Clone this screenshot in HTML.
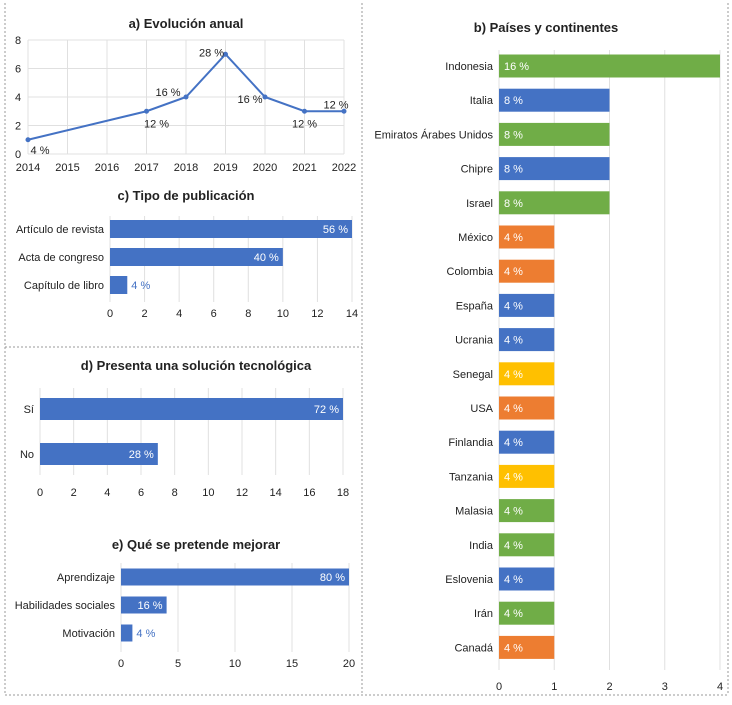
<!DOCTYPE html>
<html><head><meta charset="utf-8"><style>
body{margin:0;background:#fff;}
svg text{font-family:"Liberation Sans",sans-serif;}
</style></head><body>
<svg id="s" width="732" height="700" xmlns="http://www.w3.org/2000/svg">
<g stroke="#999" stroke-dasharray="2,2" fill="none" stroke-width="1">
<line x1="5" y1="3" x2="5" y2="695"/><line x1="362" y1="3" x2="362" y2="695"/><line x1="728" y1="3" x2="728" y2="695"/>
<line x1="5" y1="347" x2="362" y2="347"/><line x1="5" y1="695" x2="728" y2="695"/>
</g>
</svg>
<script>
const NS="http://www.w3.org/2000/svg";const S=document.getElementById('s');
function el(t,a,p){const e=document.createElementNS(NS,t);for(const k in a)e.setAttribute(k,a[k]);(p||S).appendChild(e);return e;}
function tx(x,y,s,o){const e=el('text',Object.assign({x:x,y:y,'font-size':11,fill:'#222'},o||{}));e.textContent=s;return e;}
const BLUE='#4472C4',GREEN='#70AD47',ORANGE='#ED7D31',YELLOW='#FFC000';

// a) line
const aYears=[2014,2015,2016,2017,2018,2019,2020,2021,2022];
const aX=[2014,2017,2018,2019,2020,2021,2022];
const aV=[1,3,4,7,4,3,3];
const aLab=['4 %','12 %','16 %','28 %','16 %','12 %','12 %'];
const aYT=[0,2,4,6,8];
// b) countries
const bCats=['Indonesia','Italia','Emiratos Árabes Unidos','Chipre','Israel','México','Colombia','España','Ucrania','Senegal','USA','Finlandia','Tanzania','Malasia','India','Eslovenia','Irán','Canadá'];
const bVals=[4,2,2,2,2,1,1,1,1,1,1,1,1,1,1,1,1,1];
const bLab=['16 %','8 %','8 %','8 %','8 %','4 %','4 %','4 %','4 %','4 %','4 %','4 %','4 %','4 %','4 %','4 %','4 %','4 %'];
const bCol=['G','B','G','B','G','O','O','B','B','Y','O','B','Y','G','G','B','G','O'];
const bTicks=[0,1,2,3,4];
// c
const cCats=['Artículo de revista','Acta de congreso','Capítulo de libro'];
const cVals=[14,10,1];const cLab=['56 %','40 %','4 %'];const cTicks=[0,2,4,6,8,10,12,14];
// d
const dCats=['Sí','No'];const dVals=[18,7];const dLab=['72 %','28 %'];const dTicks=[0,2,4,6,8,10,12,14,16,18];
// e
const eCats=['Aprendizaje','Habilidades sociales','Motivación'];const eVals=[20,4,1];const eLab=['80 %','16 %','4 %'];const eTicks=[0,5,10,15,20];

// chart a
(function(){
 const g=el('g',{});
 const x0=28,x1=344,y0=154,y1=40;
 const xs=v=>x0+(v-2014)/8*(x1-x0), ys=v=>y0-v/8*(y0-y1);
 tx(186,28,'a) Evolución anual',{'text-anchor':'middle','font-weight':'bold','font-size':13},g);
 aYT.forEach(t=>{el('line',{x1:x0,x2:x1,y1:ys(t),y2:ys(t),stroke:'#e0e0e0'},g);tx(18,ys(t)+4,t,{'text-anchor':'middle'},g);});
 aYears.forEach(y=>{el('line',{x1:xs(y),x2:xs(y),y1:y1,y2:y0,stroke:'#e0e0e0'},g);tx(xs(y),171,y,{'text-anchor':'middle'},g);});
 const pts=aX.map((y,i)=>xs(y)+','+ys(aV[i])).join(' ');
 const pl=el('polyline',{points:pts,fill:'none',stroke:BLUE,'stroke-width':2},g);
 const off=[[12,10],[10,12],[-18,-5],[-14,-2],[-15,2],[0,12],[-8,-7]];
 aX.forEach((y,i)=>{const c=el('circle',{cx:xs(y),cy:ys(aV[i]),r:2.5,fill:BLUE},g);
  tx(xs(y)+off[i][0],ys(aV[i])+off[i][1]+4,aLab[i],{'text-anchor':'middle'},g);});
})();

function hbar(name,title,tY,cats,vals,labs,ticks,x0,x1,gTop,gBot,rowY,bh,tickY,colors,inside,labRight){
 const g=el('g',{});
 const max=ticks[ticks.length-1];const xs=v=>x0+v/max*(x1-x0);
 tx(title[1],tY,title[0],{'text-anchor':'middle','font-weight':'bold','font-size':13},g);
 ticks.forEach(t=>{el('line',{x1:xs(t),x2:xs(t),y1:gTop,y2:gBot,stroke:'#e0e0e0'},g);tx(xs(t),tickY,t,{'text-anchor':'middle'},g);});
 cats.forEach((c,i)=>{const y=rowY(i);
  const r=el('rect',{x:x0,y:y-bh/2,width:xs(vals[i])-x0,height:bh,fill:colors?colors[i]:BLUE},g);
  
  tx(x0-6,y+4,c,{'text-anchor':'end'},g);
  if(inside==='left') tx(x0+5,y+4,labs[i],{fill:'#fff'},g);
  else if(xs(vals[i])-x0>40) tx(xs(vals[i])-4,y+4,labs[i],{'text-anchor':'end',fill:'#fff'},g);
  else tx(xs(vals[i])+4,y+4,labs[i],{fill:BLUE},g);
 });
}
const cmap={B:BLUE,G:GREEN,O:ORANGE,Y:YELLOW};
hbar('chart-c-tipo',['c) Tipo de publicación',186],200,cCats,cVals,cLab,cTicks,110,352,216,302,i=>229+i*28,18,317);
hbar('chart-d-solucion',['d) Presenta una solución tecnológica',196],370,dCats,dVals,dLab,dTicks,40,343,388,475,i=>409+i*45,22,496);
hbar('chart-e-mejorar',['e) Qué se pretende mejorar',196],549,eCats,eVals,eLab,eTicks,121,349,563,652,i=>577+i*28,17,667);
hbar('chart-b-paises',['b) Países y continentes',546],32,bCats,bVals,bLab,bTicks,499,720,50,670,i=>66+i*34.2,23,690,bCol.map(c=>cmap[c]),'left');
</script>
</body></html>
